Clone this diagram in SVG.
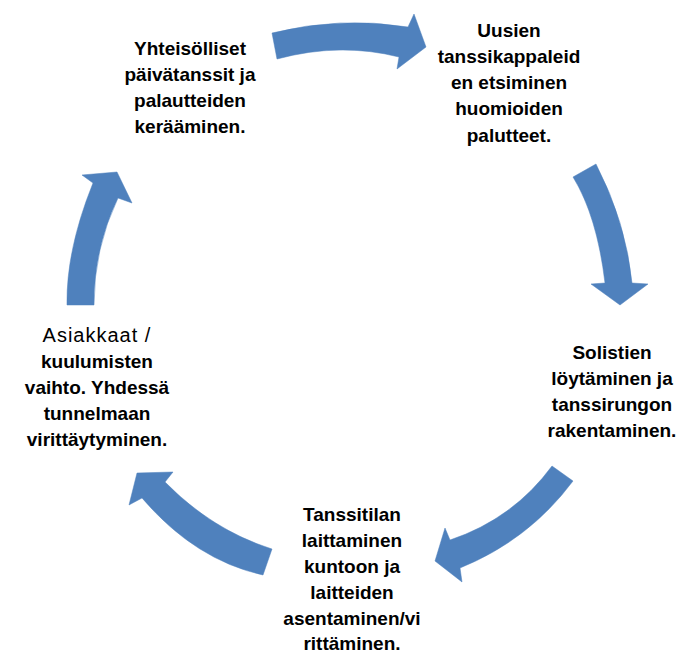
<svg xmlns="http://www.w3.org/2000/svg" width="682" height="653" viewBox="0 0 682 653">
<style>
.arr{fill:#4F81BD;stroke:#4F81BD;stroke-width:0.5;stroke-linejoin:miter}
text{font-family:"Liberation Sans",Arial,sans-serif;font-size:19px;font-weight:bold;fill:#000;text-anchor:middle}
.reg{font-weight:normal;font-size:20px;letter-spacing:1px}
</style>
<rect width="682" height="653" fill="#fff"/>
<g id="connectors">
<path class="arr" d="M272,33 Q340,16 408,27 L414,14 L426,47 L397,69 L399,57 Q340,42 277,59 Z"/>
<path class="arr" d="M573,177 L596,164 Q626,222 632,283 L648,284 L620,305 L591,284 L605,283 Q597,216 573,177 Z"/>
<path class="arr" d="M552,466 L573,481 Q529,540 460,568 L462,582 L435,561 L445,528 L450,540 Q513,519 552,466 Z"/>
<path class="arr" d="M272,549 L263,575 Q195,560 142,498 L129,505 L137,473 L173,472 L165,482 Q212,530 272,549 Z"/>
<path class="arr" d="M67,305 L94,305 Q94,248 118,198 L132,203 L117,172 L82,175 L93,183 Q66,250 67,305 Z"/>
</g>
<g id="node1">
<text x="190" y="55">Yhteisölliset</text>
<text x="190" y="81">päivätanssit ja</text>
<text x="190" y="107">palautteiden</text>
<text x="190" y="133">kerääminen.</text>
</g>
<g id="node2">
<text x="509" y="37">Uusien</text>
<text x="509" y="63">tanssikappaleid</text>
<text x="509" y="89">en etsiminen</text>
<text x="509" y="115">huomioiden</text>
<text x="509" y="142">palutteet.</text>
</g>
<g id="node3">
<text x="612" y="359">Solistien</text>
<text x="612" y="385">löytäminen ja</text>
<text x="612" y="411">tanssirungon</text>
<text x="612" y="437">rakentaminen.</text>
</g>
<g id="node4">
<text x="352" y="521">Tanssitilan</text>
<text x="352" y="547">laittaminen</text>
<text x="352" y="573">kuntoon ja</text>
<text x="352" y="599">laitteiden</text>
<text x="352" y="625">asentaminen/vi</text>
<text x="352" y="650">rittäminen.</text>
</g>
<g id="node5">
<text class="reg" x="97" y="342">Asiakkaat /</text>
<text x="97" y="368">kuulumisten</text>
<text x="97" y="394">vaihto. Yhdessä</text>
<text x="97" y="420">tunnelmaan</text>
<text x="97" y="446">virittäytyminen.</text>
</g>
</svg>
